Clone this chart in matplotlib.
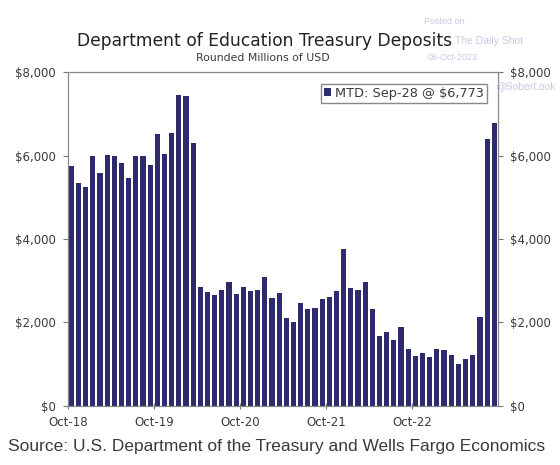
import numpy as np
import matplotlib
matplotlib.use('agg')
import matplotlib.pyplot as plt
from matplotlib.ticker import FuncFormatter

# monthly deposits, Oct-18 .. Sep-23 (millions USD)
deposits = [5750, 5350, 5250, 6000, 5570, 6020, 6000, 5810, 5460, 5990,
            5990, 5780, 6510, 6040, 6550, 7440, 7420, 6310, 2860, 2730,
            2670, 2790, 2970, 2680, 2860, 2760, 2790, 3080, 2580, 2700,
            2100, 2020, 2460, 2320, 2340, 2560, 2600, 2750, 3770, 2830,
            2780, 2970, 2330, 1680, 1760, 1580, 1880, 1360, 1200, 1280,
            1180, 1360, 1330, 1210, 1010, 1130, 1230, 2120, 6400, 6773]
tick_months = [0, 12, 24, 36, 48]
tick_labels = ['Oct-18', 'Oct-19', 'Oct-20', 'Oct-21', 'Oct-22']
y_ticks = [0, 2000, 4000, 6000, 8000]

navy = '#2e2a6e'
txt = '#3a3a3a'

fig = plt.figure(figsize=(5.6, 4.65), dpi=100)
ax = fig.add_axes([0.121, 0.127, 0.768, 0.718])

x = np.arange(len(deposits))
ax.bar(x, deposits, width=0.72, color=navy, label='MTD: Sep-28 @ $6,773')

ax.set_xlim(-0.5, len(deposits) - 0.5)
ax.set_ylim(0, 8000)
ax.set_xticks([m - 0.5 for m in tick_months])
ax.set_xticklabels(tick_labels)
ax.set_yticks(y_ticks)
fmt = FuncFormatter(lambda v, p: '${:,.0f}'.format(v))
ax.yaxis.set_major_formatter(fmt)
ax.tick_params(axis='y', which='both', right=True, labelright=True,
               direction='out', length=3.6, color='#777777', labelsize=8.5,
               labelcolor=txt, pad=5)
ax.tick_params(axis='x', direction='inout', length=5, color='#777777',
               labelsize=8.5, labelcolor=txt, pad=5)
for s in ax.spines.values():
    s.set_color('#888888')
    s.set_linewidth(0.9)

leg = ax.legend(loc='upper right', fontsize=9.3, handlelength=0.55,
                handleheight=0.55, handletextpad=0.3, borderpad=0.25,
                fancybox=False, framealpha=1, edgecolor='#888888',
                bbox_to_anchor=(0.99, 0.985))
for t in leg.get_texts():
    t.set_color(txt)

# watermark
wm = '#c9c9e6'
fig.text(0.757, 0.948, 'Posted on', fontsize=6.5, color=wm, family='Liberation Sans')
fig.text(0.812, 0.905, 'The Daily Shot', fontsize=7.5, color=wm, family='Liberation Sans')
fig.text(0.763, 0.871, '06-Oct-2023', fontsize=6.5, color=wm, family='Liberation Sans')
fig.text(0.885, 0.808, '@SoberLook', fontsize=7.5, color=wm, family='Liberation Sans')

fig.text(0.472, 0.9, 'Department of Education Treasury Deposits',
         ha='center', fontsize=12.3, color='#222222')
fig.text(0.469, 0.869, 'Rounded Millions of USD', ha='center',
         fontsize=7.8, color=txt)
fig.text(0.494, 0.03, 'Source: U.S. Department of the Treasury and Wells Fargo Economics',
         ha='center', fontsize=12.5, color=txt, family='Liberation Sans')

fig.savefig('out.png', dpi=100)
